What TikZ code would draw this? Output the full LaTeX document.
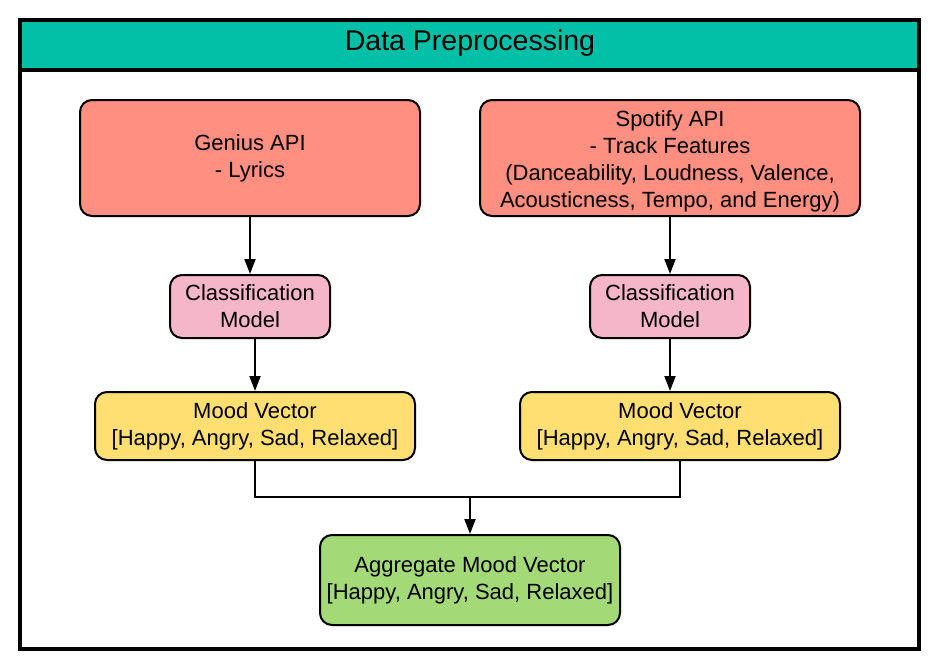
\documentclass[tikz,border=0pt]{standalone}
\usepackage{fontspec}
\setmainfont{Liberation Sans}
\usetikzlibrary{arrows.meta}
\definecolor{teal}{RGB}{2,192,168}
\definecolor{salmon}{RGB}{255,143,128}
\definecolor{pinkbox}{RGB}{244,182,200}
\definecolor{yellowbox}{RGB}{255,223,113}
\definecolor{greenbox}{RGB}{163,217,119}
\begin{document}
\begin{tikzpicture}[x=1pt,y=-1pt,
  box/.style={draw=black,line width=2pt,rounded corners=12pt,inner sep=0pt,align=center,
    font=\fontsize{22}{27}\selectfont},
  txt/.style={inner sep=0pt,align=center,font=\fontsize{22}{27}\selectfont},
  conn/.style={line width=2pt,-{Triangle[length=15pt,width=11pt]}},
  plain/.style={line width=2pt}]
\useasboundingbox (0,0) rectangle (940,669);
\fill[white] (0,0) rectangle (940,669);
\fill[teal] (20,20) rectangle (919,70);
\draw[line width=4pt] (20,70) -- (919,70);
\draw[line width=4pt] (20,20) rectangle (919,649);
\node[font=\fontsize{28.5}{34}\selectfont] (title) at (470,43.5) {Data Preprocessing};

\node[box,fill=salmon,minimum width=340pt,minimum height=116pt] (genius) at (250,158) {Genius API\\- Lyrics};
\node[box,fill=salmon,minimum width=380pt,minimum height=116pt] (spotify) at (670,158) {};
\node[txt] (spotifytxt) at (670,161)
  {Spotify API\\- Track Features\\(Danceability, Loudness, Valence,\\Acousticness, Tempo, and Energy)};
\node[box,fill=pinkbox,minimum width=160pt,minimum height=63pt] (classL) at (250,306.5) {Classification\\Model};
\node[box,fill=pinkbox,minimum width=160pt,minimum height=63pt] (classR) at (670,306.5) {Classification\\Model};
\node[box,fill=yellowbox,minimum width=320pt,minimum height=68pt] (moodL) at (255,426) {Mood Vector\\{[Happy, Angry, Sad, Relaxed]}};
\node[box,fill=yellowbox,minimum width=320pt,minimum height=68pt] (moodR) at (680,426) {Mood Vector\\{[Happy, Angry, Sad, Relaxed]}};
\node[box,fill=greenbox,minimum width=300pt,minimum height=90pt] (agg) at (470,580) {Aggregate Mood Vector\\{[Happy, Angry, Sad, Relaxed]}};

\coordinate (mrg) at (470,497);
\draw[conn] (genius.south) -- (classL.north);
\draw[conn] (spotify.south) -- (classR.north);
\draw[conn] (moodL.north |- classL.south) -- (moodL.north);
\draw[conn] (classR.south) -- (classR.south |- moodR.north);
\draw[plain] (moodL.south) |- (mrg) -| (moodR.south);
\draw[conn] (mrg) -- (agg.north);
\end{tikzpicture}
\end{document}
